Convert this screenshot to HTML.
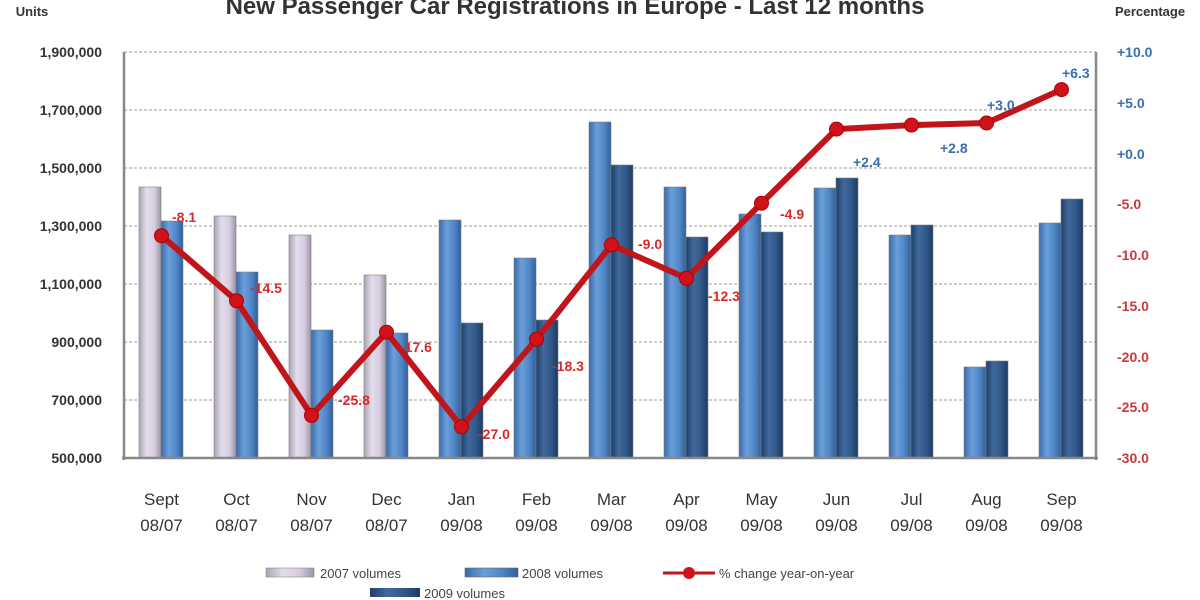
<!DOCTYPE html>
<html><head><meta charset="utf-8"><style>
html,body{margin:0;padding:0;background:#fff;}
svg{display:block;font-family:"Liberation Sans",sans-serif;}
</style></head><body>
<svg width="1200" height="600" viewBox="0 0 1200 600" xmlns="http://www.w3.org/2000/svg">
<defs>
<linearGradient id="g7" x1="0" x2="1"><stop offset="0" stop-color="#a9a3b3"/><stop offset="0.35" stop-color="#e4ddeb"/><stop offset="0.7" stop-color="#d6cde0"/><stop offset="1" stop-color="#9a94a3"/></linearGradient>
<linearGradient id="g8" x1="0" x2="1"><stop offset="0" stop-color="#3a6aa8"/><stop offset="0.35" stop-color="#6b9fda"/><stop offset="0.7" stop-color="#4f86c6"/><stop offset="1" stop-color="#325f99"/></linearGradient>
<linearGradient id="g9" x1="0" x2="1"><stop offset="0" stop-color="#1f3f68"/><stop offset="0.35" stop-color="#41699c"/><stop offset="0.7" stop-color="#2f5787"/><stop offset="1" stop-color="#1d3a60"/></linearGradient>
</defs>
<text x="575" y="14" text-anchor="middle" font-size="24" font-weight="bold" fill="#333">New Passenger Car Registrations in Europe - Last 12 months</text>
<text x="32" y="16" text-anchor="middle" font-size="13" font-weight="bold" fill="#333">Units</text>
<text x="1150" y="16" text-anchor="middle" font-size="13" font-weight="bold" fill="#333">Percentage</text>
<g stroke="#bbb" stroke-dasharray="3,2" stroke-width="1.5">
<line x1="124" y1="52" x2="1096" y2="52"/><line x1="124" y1="110" x2="1096" y2="110"/><line x1="124" y1="168" x2="1096" y2="168"/><line x1="124" y1="226" x2="1096" y2="226"/><line x1="124" y1="284" x2="1096" y2="284"/><line x1="124" y1="342" x2="1096" y2="342"/><line x1="124" y1="400" x2="1096" y2="400"/>
</g>
<g font-size="14" font-weight="bold" fill="#333" text-anchor="end">
<text x="102" y="57">1,900,000</text><text x="102" y="115">1,700,000</text><text x="102" y="173">1,500,000</text><text x="102" y="231">1,300,000</text><text x="102" y="289">1,100,000</text><text x="102" y="347">900,000</text><text x="102" y="405">700,000</text><text x="102" y="463">500,000</text>
</g>
<g font-size="14" font-weight="bold" text-anchor="start">
<text x="1117" y="57" fill="#3a6fb0">+10.0</text><text x="1117" y="108" fill="#3a6fb0">+5.0</text><text x="1117" y="159" fill="#3a6fb0">+0.0</text>
<text x="1117" y="209" fill="#c83a3a">-5.0</text><text x="1117" y="260" fill="#c83a3a">-10.0</text><text x="1117" y="311" fill="#c83a3a">-15.0</text><text x="1117" y="362" fill="#c83a3a">-20.0</text><text x="1117" y="412" fill="#c83a3a">-25.0</text><text x="1117" y="463" fill="#c83a3a">-30.0</text>
</g>
<g stroke="#7f7f7f" stroke-width="0.6">
<rect x="139" y="187" width="22" height="271" fill="url(#g7)"/><rect x="161" y="221" width="22" height="237" fill="url(#g8)"/>
<rect x="214" y="216" width="22" height="242" fill="url(#g7)"/><rect x="236" y="272" width="22" height="186" fill="url(#g8)"/>
<rect x="289" y="235" width="22" height="223" fill="url(#g7)"/><rect x="311" y="330" width="22" height="128" fill="url(#g8)"/>
<rect x="364" y="275" width="22" height="183" fill="url(#g7)"/><rect x="386" y="333" width="22" height="125" fill="url(#g8)"/>
<rect x="439" y="220" width="22" height="238" fill="url(#g8)"/><rect x="461" y="323" width="22" height="135" fill="url(#g9)"/>
<rect x="514" y="258" width="22" height="200" fill="url(#g8)"/><rect x="536" y="320" width="22" height="138" fill="url(#g9)"/>
<rect x="589" y="122" width="22" height="336" fill="url(#g8)"/><rect x="611" y="165" width="22" height="293" fill="url(#g9)"/>
<rect x="664" y="187" width="22" height="271" fill="url(#g8)"/><rect x="686" y="237" width="22" height="221" fill="url(#g9)"/>
<rect x="739" y="214" width="22" height="244" fill="url(#g8)"/><rect x="761" y="232" width="22" height="226" fill="url(#g9)"/>
<rect x="814" y="188" width="22" height="270" fill="url(#g8)"/><rect x="836" y="178" width="22" height="280" fill="url(#g9)"/>
<rect x="889" y="235" width="22" height="223" fill="url(#g8)"/><rect x="911" y="225" width="22" height="233" fill="url(#g9)"/>
<rect x="964" y="367" width="22" height="91" fill="url(#g8)"/><rect x="986" y="361" width="22" height="97" fill="url(#g9)"/>
<rect x="1039" y="223" width="22" height="235" fill="url(#g8)"/><rect x="1061" y="199" width="22" height="259" fill="url(#g9)"/>
</g>
<g stroke="#888" stroke-width="2.5"><line x1="124" y1="52" x2="124" y2="460"/><line x1="1096" y1="52" x2="1096" y2="460"/><line x1="122" y1="458" x2="1098" y2="458"/></g>
<polyline fill="none" stroke="#c0151b" stroke-width="6" stroke-linejoin="round" points="161.5,235.7 236.5,300.7 311.5,415.4 386.5,332.2 461.5,426.8 536.5,339.3 611.5,244.9 686.5,278.3 761.5,203.2 836.5,129.1 911.5,125.1 986.5,123 1061.5,89.6"/>
<g fill="#d0131a" stroke="#a00" stroke-width="1">
<circle cx="161.5" cy="235.7" r="7"/><circle cx="236.5" cy="300.7" r="7"/><circle cx="311.5" cy="415.4" r="7"/><circle cx="386.5" cy="332.2" r="7"/><circle cx="461.5" cy="426.8" r="7"/><circle cx="536.5" cy="339.3" r="7"/><circle cx="611.5" cy="244.9" r="7"/><circle cx="686.5" cy="278.3" r="7"/><circle cx="761.5" cy="203.2" r="7"/><circle cx="836.5" cy="129.1" r="7"/><circle cx="911.5" cy="125.1" r="7"/><circle cx="986.5" cy="123" r="7"/><circle cx="1061.5" cy="89.6" r="7"/>
</g>
<g font-size="14" font-weight="bold" fill="#d42a2a">
<text x="172" y="222">-8.1</text><text x="250" y="293">-14.5</text><text x="338" y="405">-25.8</text><text x="400" y="352">-17.6</text><text x="478" y="439">-27.0</text><text x="552" y="371">-18.3</text><text x="638" y="249">-9.0</text><text x="708" y="301">-12.3</text><text x="780" y="219">-4.9</text>
</g>
<g font-size="14" font-weight="bold" fill="#3a6fb0">
<text x="853" y="167">+2.4</text><text x="940" y="153">+2.8</text><text x="987" y="110">+3.0</text><text x="1062" y="78">+6.3</text>
</g>
<g font-size="17" fill="#333" text-anchor="middle">
<text x="161.5" y="505">Sept</text><text x="161.5" y="531">08/07</text>
<text x="236.5" y="505">Oct</text><text x="236.5" y="531">08/07</text>
<text x="311.5" y="505">Nov</text><text x="311.5" y="531">08/07</text>
<text x="386.5" y="505">Dec</text><text x="386.5" y="531">08/07</text>
<text x="461.5" y="505">Jan</text><text x="461.5" y="531">09/08</text>
<text x="536.5" y="505">Feb</text><text x="536.5" y="531">09/08</text>
<text x="611.5" y="505">Mar</text><text x="611.5" y="531">09/08</text>
<text x="686.5" y="505">Apr</text><text x="686.5" y="531">09/08</text>
<text x="761.5" y="505">May</text><text x="761.5" y="531">09/08</text>
<text x="836.5" y="505">Jun</text><text x="836.5" y="531">09/08</text>
<text x="911.5" y="505">Jul</text><text x="911.5" y="531">09/08</text>
<text x="986.5" y="505">Aug</text><text x="986.5" y="531">09/08</text>
<text x="1061.5" y="505">Sep</text><text x="1061.5" y="531">09/08</text>
</g>
<rect x="266" y="568" width="48" height="9" fill="url(#g7)" stroke="#888" stroke-width="0.6"/>
<text x="320" y="578" font-size="13" fill="#444">2007 volumes</text>
<rect x="465" y="568" width="53" height="9" fill="url(#g8)" stroke="#666" stroke-width="0.6"/>
<text x="522" y="578" font-size="13" fill="#444">2008 volumes</text>
<line x1="663" y1="573" x2="715" y2="573" stroke="#c0151b" stroke-width="3"/><circle cx="689" cy="573" r="6" fill="#d0131a"/>
<text x="719" y="578" font-size="13" fill="#444">% change year-on-year</text>
<rect x="370" y="588" width="50" height="9" fill="url(#g9)"/>
<text x="424" y="598" font-size="13" fill="#444">2009 volumes</text>
</svg>
</body></html>
